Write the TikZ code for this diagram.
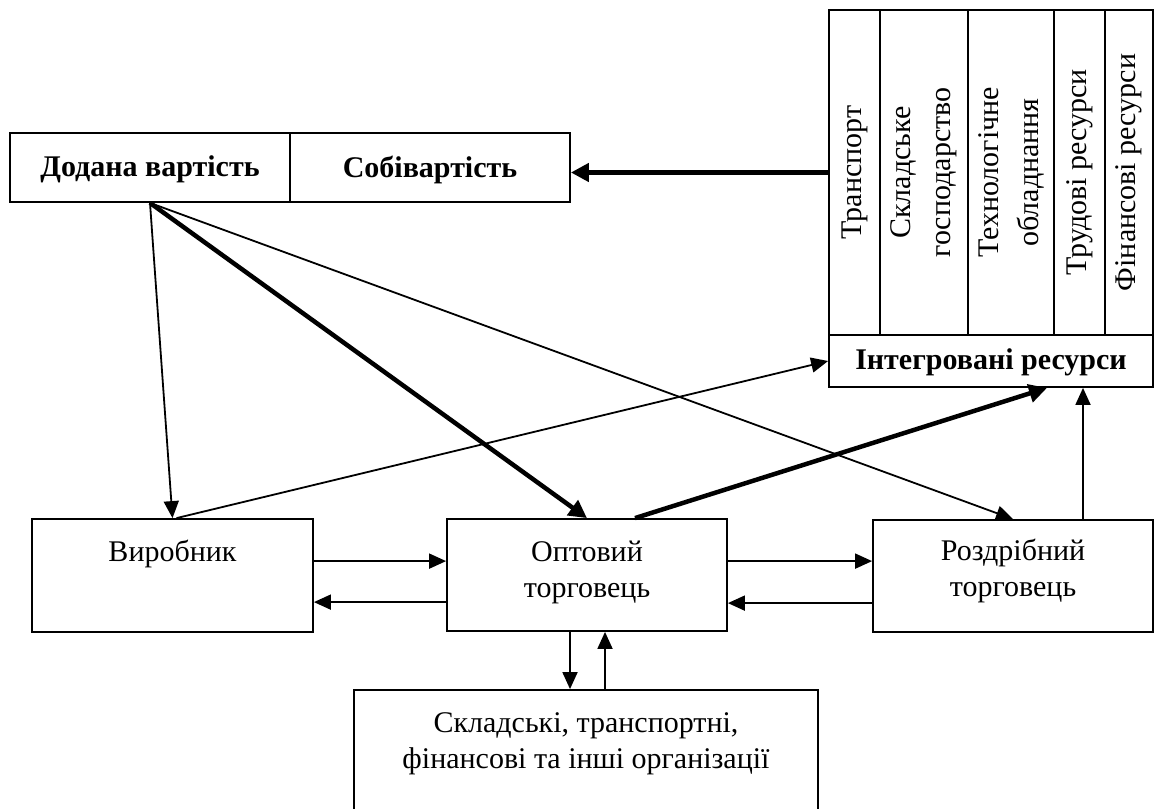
\documentclass[tikz,border=0pt]{standalone}
\usepackage{fontspec}
\setmainfont{Liberation Serif}
\usetikzlibrary{arrows.meta,calc}
\begin{document}
\begin{tikzpicture}[x=1pt,y=-1pt,
  box/.style={draw, line width=1.8pt, inner sep=0pt},
  lbl/.style={font=\fontsize{30}{36}\selectfont, align=center, inner sep=0pt},
  lblb/.style={font=\fontsize{30}{36}\selectfont\bfseries, align=center, inner sep=0pt},
  vlbl/.style={font=\fontsize{30}{40}\selectfont, align=center, rotate=90, inner sep=0pt},
  arr/.style={line width=1.8pt, -{Triangle[length=17pt,width=15pt]}},
  arrb/.style={line width=4.5pt, -{Triangle[length=18pt,width=18pt]}}
]
\useasboundingbox (0,0) rectangle (1155,808);
\clip (0,0) rectangle (1155,808);

% top-left box
\node[box, minimum width=280, minimum height=69] (dv) at (150,167.5) {};
\node[box, minimum width=280, minimum height=69] (sb) at (430,167.5) {};
\node[lblb] (dvt) at ([yshift=-2pt]dv.center) {Додана вартість};
\node[lblb] (sbt) at ([yshift=-2pt]sb.center) {Собівартість};

% resources block
\node[box, minimum width=51, minimum height=325] (c1) at (854.5,172.5) {};
\node[box, minimum width=88, minimum height=325] (c2) at (924,172.5) {};
\node[box, minimum width=86, minimum height=325] (c3) at (1011,172.5) {};
\node[box, minimum width=51, minimum height=325] (c4) at (1079.5,172.5) {};
\node[box, minimum width=48, minimum height=325] (c5) at (1129,172.5) {};
\node[vlbl] (c1t) at (c1.center) {Транспорт};
\node[vlbl] (c2t) at (c2.center) {Складське\\господарство};
\node[vlbl] (c3t) at (c3.center) {Технологічне\\обладнання};
\node[vlbl] (c4t) at (c4.center) {Трудові ресурси};
\node[vlbl] (c5t) at (c5.center) {Фінансові ресурси};
\node[box, minimum width=324, minimum height=52] (ir) at (991,361) {};
\node[lblb] (irt) at ([yshift=-1pt]ir.center) {Інтегровані ресурси};

% middle row
\node[box, minimum width=281, minimum height=113] (vyr) at (172.5,575.5) {};
\node[box, minimum width=280, minimum height=112] (opt) at (587,575) {};
\node[box, minimum width=280, minimum height=112] (roz) at (1013,576) {};
\node[lbl] (vyrt) at ([yshift=-36pt]vyr.north) {Виробник};
\node[lbl] (optt) at ([yshift=-54pt]opt.north) {Оптовий\\торговець};
\node[lbl] (rozt) at ([yshift=-52pt]roz.north) {Роздрібний\\торговець};

% bottom box
\node[box, minimum width=464, minimum height=130] (org) at (586,755) {};
\node[lbl] (orgt) at ([yshift=-55pt]org.north) {Складські, транспортні,\\фінансові та інші організації};

% connectors
\draw[arrb] (c1.west) -- (c1.west -| sb.east);
\draw[arr] (dv.south) -- (vyr.north);
\draw[arrb] (dv.south) -- (opt.north);
\draw[arr] (dv.south) -- (roz.north);
\draw[arr] ([xshift=4pt]vyr.north) -- (ir.west);
\draw[arrb] ([xshift=48pt]opt.north) -- ([xshift=56pt]ir.south);
\coordinate (rzup) at ([xshift=70pt]roz.north);
\draw[arr] (rzup) -- (rzup |- ir.south);

\coordinate (a1) at ([yshift=-43pt]vyr.north east);
\draw[arr] (a1) -- (a1 -| opt.west);
\coordinate (a2) at ([yshift=-84pt]opt.north west);
\draw[arr] (a2) -- (a2 -| vyr.east);
\coordinate (a3) at ([yshift=-43pt]opt.north east);
\draw[arr] (a3) -- (a3 -| roz.west);
\coordinate (a4) at ([yshift=-84pt]roz.north west);
\draw[arr] (a4) -- (a4 -| opt.east);

\coordinate (d1) at ([xshift=-17pt]opt.south);
\draw[arr] (d1) -- (d1 |- org.north);
\coordinate (u1) at ([xshift=18pt]opt.south);
\draw[arr] (u1 |- org.north) -- (u1);
\end{tikzpicture}
\end{document}
